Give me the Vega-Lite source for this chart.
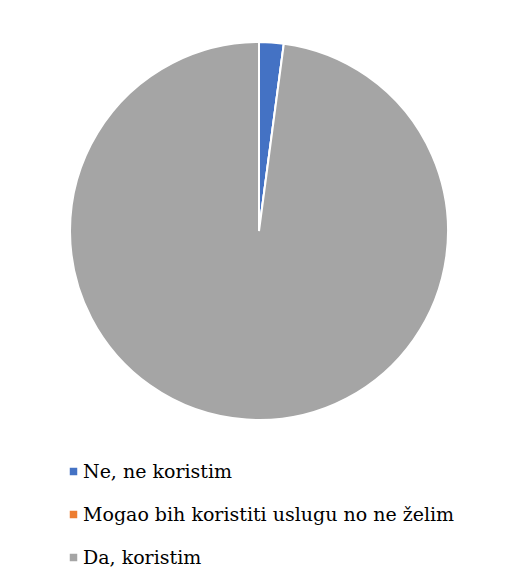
{
  "$schema": "https://vega.github.io/schema/vega-lite/v6.json",
  "width": 494,
  "height": 462,
  "padding": {"left": 12, "top": 0, "right": 0, "bottom": 123},
  "autosize": "none",
  "background": "white",
  "view": {"stroke": null},
  "data": {
    "values": [
      {"category": "Ne, ne koristim", "value": 2.1, "ord": 1},
      {"category": "Mogao bih koristiti uslugu no ne želim", "value": 0, "ord": 2},
      {"category": "Da, koristim", "value": 97.9, "ord": 3}
    ]
  },
  "mark": {"type": "arc", "radius": 189, "stroke": "white", "strokeWidth": 2},
  "encoding": {
    "theta": {"field": "value", "type": "quantitative", "stack": true},
    "order": {"field": "ord", "type": "quantitative"},
    "color": {
      "field": "category",
      "type": "nominal",
      "scale": {
        "domain": ["Ne, ne koristim", "Mogao bih koristiti uslugu no ne želim", "Da, koristim"],
        "range": ["#4472C4", "#ED7D31", "#A5A5A5"]
      },
      "legend": {
        "title": null,
        "orient": "none",
        "legendX": 52,
        "legendY": 462,
        "padding": 0,
        "direction": "vertical",
        "symbolType": "square",
        "symbolSize": 56,
        "symbolStrokeWidth": 0,
        "labelFont": "DejaVu Serif",
        "labelFontSize": 19,
        "labelColor": "#000000",
        "labelOffset": 0,
        "rowPadding": 23,
        "labelLimit": 500
      }
    }
  }
}
